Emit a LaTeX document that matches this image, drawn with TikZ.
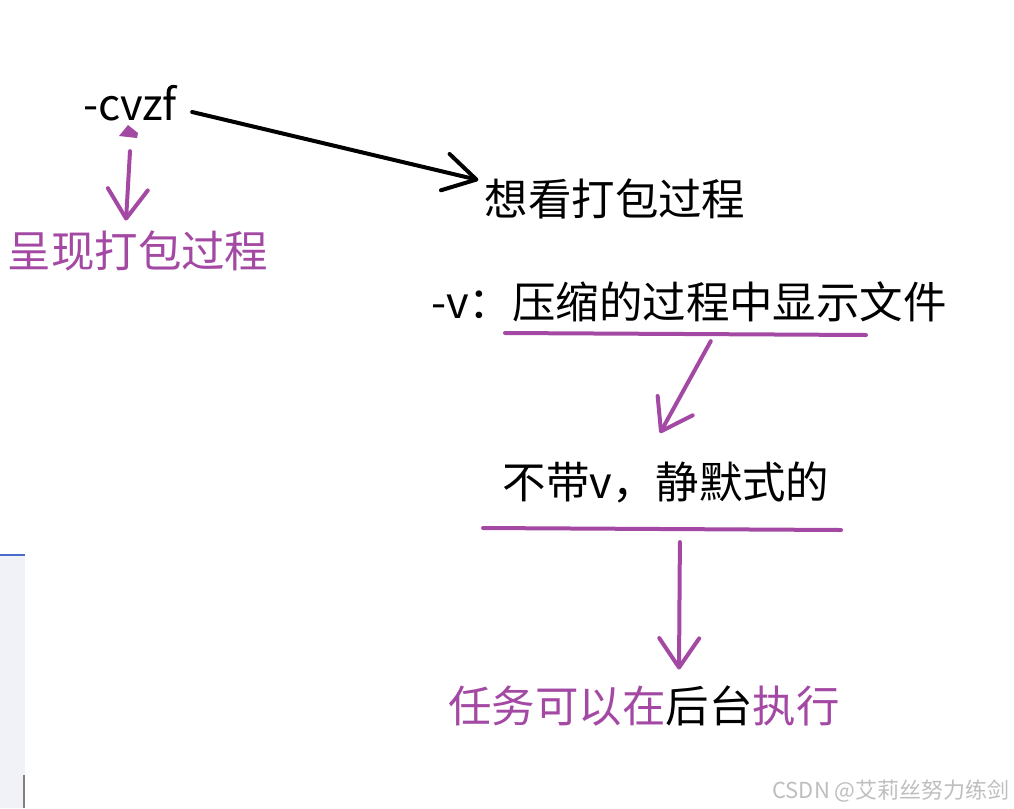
\documentclass[tikz,border=0pt]{standalone}
\usepackage{fontspec}
\setmainfont{Noto Sans CJK SC}
\usepackage{xcolor}
\usetikzlibrary{calc, arrows.meta}
\definecolor{inkpurple}{RGB}{163,73,164}
\definecolor{markgray}{RGB}{190,190,190}
\definecolor{panelbg}{RGB}{240,242,248}
\definecolor{panelblue}{RGB}{72,108,200}
\tikzset{
  word/.style={inner sep=0pt, font=\fontsize{32.6}{36}\selectfont},
  blackink/.style={line width=3pt, line cap=round, -{Straight Barb[length=24pt,width=28pt,round]}},
  purpleink/.style={line width=3pt, line cap=round, color=inkpurple, -{Straight Barb[length=22pt,width=30pt,round]}},
  underline/.style={line width=3pt, line cap=round, color=inkpurple}
}

\begin{document}
\begin{tikzpicture}[x=0.75pt, y=-0.75pt]
  \useasboundingbox (0,0) rectangle (1014,808);
  % edge of the next window
  \fill[panelbg] (0,556) rectangle (25,808);
  \draw[panelblue, line width=2pt] (0,555) -- (25,555);
  \draw[gray, line width=1pt] (24,775) -- (24,808);

  \node[word] (cvzf) at (130,103) {-cvzf};
  \node[word, text=inkpurple] (show) at (138,251) {呈现打包过程};
  \node[word] (want) at (615,199) {想看打包过程};
  \node[word] (vopt) at (689,302) {-v：压缩的过程中显示文件};
  \node[word] (quiet) at (666,482) {不带v，静默式的};
  \node[word, text=inkpurple] (bg) at (644,706) {任务可以在{\color{black}后台}执行};
  \node[inner sep=0pt, anchor=east, text=markgray, font=\fontsize{16.5}{18}\selectfont] (mark) at (1010,791) {CSDN @艾莉丝努力练剑};

  % underlines
  \coordinate (vl) at (505,333);
  \coordinate (vr) at (866,335);
  \coordinate (ql) at (483,528);
  \coordinate (qr) at (841,530);
  \draw[underline] (vl) -- (vr);
  \draw[underline] (ql) -- (qr);
  \coordinate (vmid) at ($(vl)!0.57!(vr)$);
  \coordinate (qmid) at ($(ql)!0.55!(qr)$);

  \fill[inkpurple] (119,136) -- (128,125) -- (138,133) -- (137,138) -- cycle;
  \draw[blackink] ($(cvzf.east)+(15,9)$) -- ($(want.west)+(-6,-19)$);
  \draw[purpleink] ($(cvzf.south)+(0,30)$) -- ($(show.north)+(-12,-10)$);
  \draw[purpleink] ($(vmid)+(0,7)$) -- ($(quiet.north)+(-6,-28)$);
  \draw[purpleink] ($(qmid)+(0,13)$) -- ($(bg.north)+(35,-16)$);
\end{tikzpicture}
\end{document}
